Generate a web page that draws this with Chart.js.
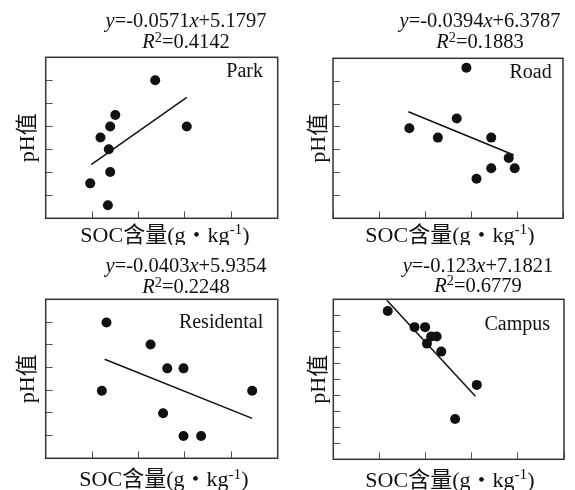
<!DOCTYPE html>
<html>
<head>
<meta charset="utf-8">
<script src="https://cdn.jsdelivr.net/npm/chart.js@4.4.0/dist/chart.umd.min.js"></script>
<style>
  html, body { margin: 0; padding: 0; background: #fff; }
  #wrap { position: relative; width: 575px; height: 490px; }
  canvas { position: absolute; }
</style>
</head>
<body>
<div id="wrap">
  <canvas id="park" width="287" height="245" style="left:0;top:0"></canvas>
  <canvas id="road" width="288" height="245" style="left:287px;top:0"></canvas>
  <canvas id="res" width="287" height="245" style="left:0;top:245px"></canvas>
  <canvas id="campus" width="288" height="245" style="left:287px;top:245px"></canvas>
</div>
<script>
// values (axis units: x 0-5, y 0-7 or 0-10, no tick labels shown)
const parkX = [2.36, 1.50, 1.39, 1.18, 1.36, 3.04, 1.39, 0.96, 1.34];
const parkY = [6.00, 4.49, 3.99, 3.51, 3.00, 3.99, 2.01, 1.52, 0.57];
const parkFitX = [0.98, 3.04];
const parkFitY = [2.33, 5.26];

const roadX = [2.90, 1.66, 2.28, 2.69, 3.44, 3.82, 3.44, 3.95, 3.12];
const roadY = [6.59, 3.94, 3.53, 4.37, 3.53, 2.64, 2.19, 2.19, 1.73];
const roadFitX = [1.64, 3.93];
const roadFitY = [4.66, 2.77];

const resX = [1.31, 2.26, 2.62, 2.97, 1.21, 4.45, 2.53, 2.97, 3.35];
const resY = [5.98, 5.01, 3.96, 3.96, 2.97, 2.97, 1.98, 0.98, 0.98];
const resFitX = [1.27, 4.45];
const resFitY = [4.36, 1.76];

const campusX = [1.18, 1.76, 1.99, 2.12, 2.24, 2.03, 2.34, 3.11, 2.64];
const campusY = [9.27, 8.26, 8.26, 7.68, 7.68, 7.23, 6.73, 4.65, 2.52];
const campusFitX = [1.16, 3.08];
const campusFitY = [9.94, 3.94];

const panelNames = ['Park', 'Road', 'Residental', 'Campus'];
const slopes = ['-0.0571', '-0.0394', '-0.0403', '-0.123'];
const intercepts = ['5.1797', '6.3787', '5.9354', '7.1821'];
const r2Values = ['0.4142', '0.1883', '0.2248', '0.6779'];
const yMaxes = [7, 7, 7, 10];
const xMax = 5;

const SERIF = '"Liberation Serif", "Noto Sans CJK SC", serif';

function drawRich(ctx, segs, cx, baseline, size) {
  let total = 0;
  const parts = segs.map((s) => {
    const fs = s.sup ? size * 0.7 : size;
    const font = `${s.italic ? 'italic ' : ''}${fs}px ${SERIF}`;
    ctx.font = font;
    const w = ctx.measureText(s.t).width;
    total += w;
    return { t: s.t, font, w, dy: s.sup ? -size * 0.33 : 0 };
  });
  let x = cx - total / 2;
  ctx.textAlign = 'left';
  ctx.textBaseline = 'alphabetic';
  parts.forEach((p) => {
    ctx.font = p.font;
    ctx.fillText(p.t, x, baseline + p.dy);
    x += p.w;
  });
}

const panelText = {
  id: 'panelText',
  afterDraw(chart, args, o) {
    const ctx = chart.ctx;
    const a = chart.chartArea;
    ctx.save();
    ctx.strokeStyle = '#333';
    ctx.lineWidth = 1.5;
    ctx.strokeRect(a.left, a.top, a.right - a.left, a.bottom - a.top);
    ctx.fillStyle = '#111';

    drawRich(ctx, [
      { t: 'y', italic: true }, { t: '=' + o.slope }, { t: 'x', italic: true }, { t: '+' + o.intercept }
    ], o.eqCx, o.eqY1, 20.5);
    drawRich(ctx, [
      { t: 'R', italic: true }, { t: '2', sup: true }, { t: '=' + o.r2 }
    ], o.eqCx, o.eqY2, 20.5);

    ctx.font = `20px ${SERIF}`;
    ctx.textAlign = 'right';
    ctx.fillText(o.name, o.nameX, o.nameY);

    drawRich(ctx, [
      { t: 'SOC含量(g・kg' }, { t: '-1', sup: true }, { t: ')' }
    ], o.xlabCx, o.xlabY, 22);

    ctx.translate(o.ylabX, (a.top + a.bottom) / 2);
    ctx.rotate(-Math.PI / 2);
    drawRich(ctx, [{ t: 'pH值' }], 0, 7, 22);
    ctx.restore();
  }
};

function makePanel(id, i, xs, ys, fitX, fitY, pad, txt) {
  const pts = xs.map((x, k) => ({ x, y: ys[k] }));
  const fit = fitX.map((x, k) => ({ x, y: fitY[k] }));
  const tickGrid = { display: true, drawOnChartArea: false, drawTicks: true, tickLength: -7, color: '#555', lineWidth: 1 };
  new Chart(document.getElementById(id), {
    type: 'scatter',
    data: {
      datasets: [
        { data: fit, showLine: true, borderColor: '#111', borderWidth: 1.5, pointRadius: 0 },
        { data: pts, backgroundColor: '#111', borderWidth: 0, pointRadius: 5 }
      ]
    },
    options: {
      responsive: false,
      animation: false,
      layout: { padding: pad },
      plugins: {
        legend: { display: false },
        tooltip: { enabled: false },
        panelText: Object.assign({
          name: panelNames[i], slope: slopes[i], intercept: intercepts[i], r2: r2Values[i]
        }, txt)
      },
      scales: {
        x: {
          type: 'linear', min: 0, max: xMax,
          ticks: { display: false, stepSize: 1 },
          grid: tickGrid, border: { display: false },
          afterFit(s) { s.height = 0; }
        },
        y: {
          type: 'linear', min: 0, max: yMaxes[i],
          ticks: { display: false, stepSize: 1 },
          grid: tickGrid, border: { display: false },
          afterFit(s) { s.width = 0; }
        }
      }
    },
    plugins: [panelText]
  });
}

makePanel('park', 0, parkX, parkY, parkFitX, parkFitY,
  { left: 45.7, right: 9.3, top: 57.3, bottom: 26.7 },
  { eqCx: 186, eqY1: 26.7, eqY2: 48.3, nameX: 263, nameY: 77, xlabCx: 165, xlabY: 241.7, ylabX: 27 });
makePanel('road', 1, roadX, roadY, roadFitX, roadFitY,
  { left: 46, right: 12, top: 58.3, bottom: 26.7 },
  { eqCx: 193, eqY1: 26.7, eqY2: 48.3, nameX: 264.7, nameY: 78.3, xlabCx: 163, xlabY: 241.7, ylabX: 30.5 });
makePanel('res', 2, resX, resY, resFitX, resFitY,
  { left: 45.7, right: 9.3, top: 54.3, bottom: 31.7 },
  { eqCx: 186, eqY1: 26.7, eqY2: 48.3, nameX: 263.3, nameY: 83.3, xlabCx: 164, xlabY: 241, ylabX: 26.7 });
makePanel('campus', 3, campusX, campusY, campusFitX, campusFitY,
  { left: 46.3, right: 11, top: 54.3, bottom: 30.7 },
  { eqCx: 191, eqY1: 26.7, eqY2: 46.7, nameX: 263, nameY: 85, xlabCx: 163, xlabY: 241.7, ylabX: 30.5 });
</script>
</body>
</html>
